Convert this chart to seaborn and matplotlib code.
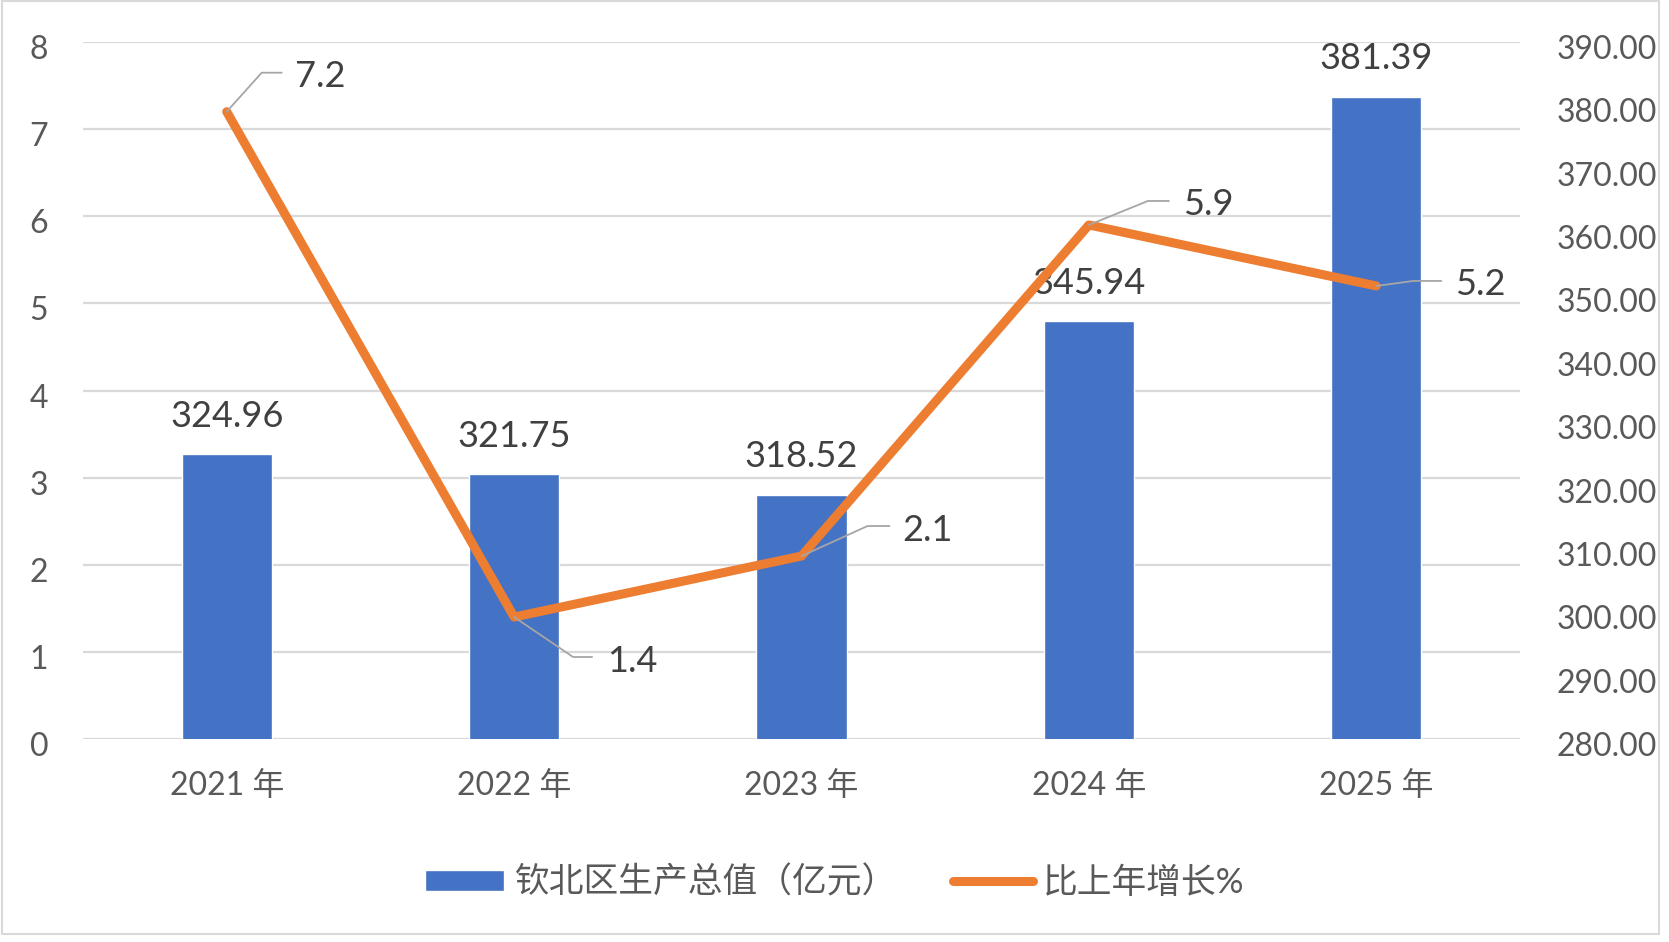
import numpy as np
import pandas as pd
import matplotlib.pyplot as plt
import matplotlib.transforms as mtransforms
from matplotlib.patches import Patch, Rectangle
from matplotlib.lines import Line2D
import seaborn as sns

# données
years = ['2021 年', '2022 年', '2023 年', '2024 年', '2025 年']
gdp = [324.96, 321.75, 318.52, 345.94, 381.39]
growth = [7.2, 1.4, 2.1, 5.9, 5.2]
left_ticks = [0, 1, 2, 3, 4, 5, 6, 7, 8]
right_ticks = [280, 290, 300, 310, 320, 330, 340, 350, 360, 370, 380, 390]
legend_labels = ['钦北区生产总值（亿元）', '比上年增长%']

BLUE = '#4472C4'
ORANGE = '#ED7D31'
GRID = '#D9D9D9'
TICK = '#595959'
LABEL = '#404040'

sns.set_style('white')
plt.rcParams['font.family'] = ['Lato', 'Noto Sans CJK SC']

df = pd.DataFrame({'year': years, 'gdp': gdp, 'growth': growth})

W, H = 1669, 942
fig = plt.figure(figsize=(W / 100, H / 100), dpi=100)
ax = fig.add_axes([83 / W, 1 - 739 / H, (1520 - 83) / W, (739 - 42) / H])

# barres sur l'axe de droite (280-390)
sns.barplot(data=df, x='year', y='gdp', ax=ax, color=BLUE, saturation=1, width=0.314)
ax.set_ylim(280, 390)
ax.set_yticks(right_ticks, [f'{t:.2f}' for t in right_ticks])

# courbe sur l'axe de gauche (0-8)
ax2 = ax.twinx()
sns.lineplot(x=df.index, y=df['growth'], ax=ax2, color=ORANGE, lw=6.5,
             solid_joinstyle='round', solid_capstyle='round', sort=False)
ax2.set_ylim(0, 8)
ax2.set_yticks(left_ticks, [str(t) for t in left_ticks])

# twinx remet les graduations à gauche : on inverse ensuite
ax.yaxis.tick_right()
ax2.yaxis.tick_left()

ax.set_xlim(-0.5, 4.5)
ax.set_xticks(range(len(years)), years)

for a in (ax, ax2):
    a.set_xlabel('')
    a.set_ylabel('')
    for s in a.spines.values():
        s.set_visible(False)

ax.tick_params(axis='x', length=0, labelsize=23, labelcolor=TICK, pad=23)
ax.tick_params(axis='y', length=0, labelsize=23, labelcolor=TICK, pad=26)
ax2.tick_params(axis='y', length=0, labelsize=23, labelcolor=TICK, pad=25)

# les libellés Excel sont un peu plus bas que les lignes
shift = mtransforms.ScaledTranslation(0, -5 / 100, fig.dpi_scale_trans)
for lab in ax.get_yticklabels() + ax2.get_yticklabels():
    lab.set_transform(lab.get_transform() + shift)

# quadrillage de l'axe gauche, dessiné sous les barres
grid_tr = mtransforms.blended_transform_factory(ax.transAxes, ax2.transData)
for t in left_ticks:
    ax.plot([0, 1], [t, t], transform=grid_tr, color=GRID, lw=1.6, zorder=0.5)

# étiquettes des barres
for i, v in enumerate(gdp):
    ax.annotate(f'{v:.2f}', xy=(i, v), xytext=(0, 38), textcoords='offset pixels',
                ha='center', va='center', fontsize=26, color=LABEL)

# étiquettes de la courbe avec lignes de rappel (coude, fin, texte en pixels)
leaders = [((35, 39), (55, 39), (68, 35)),
           ((59, -40), (78, -40), (93, -44)),
           ((66, 30), (88, 30), (101, 26)),
           ((59, 24), (80, 24), (94, 20)),
           ((37, 5), (65, 5), (79, 1))]
for i, (v, (c, e, t)) in enumerate(zip(growth, leaders)):
    px, py = ax2.transData.transform((i, v))
    pts = np.array([[px, py], [px + c[0], py + c[1]], [px + e[0], py + e[1]]])
    d = ax2.transData.inverted().transform(pts)
    ax2.plot(d[:, 0], d[:, 1], color='#A6A6A6', lw=1.3, zorder=4)
    ax2.annotate(f'{v}', xy=(i, v), xytext=t, textcoords='offset pixels',
                 ha='left', va='center', fontsize=26, color=LABEL)

handles = [Patch(facecolor=BLUE),
           Line2D([], [], color=ORANGE, lw=6.5, solid_capstyle='round')]
fig.legend(handles, legend_labels, loc='center', bbox_to_anchor=(0.5, 1 - 882 / H),
           ncol=2, frameon=False, fontsize=25, labelcolor=TICK,
           handlelength=2.3, handleheight=0.57, handletextpad=0.3, columnspacing=1.6)

fig.add_artist(Rectangle((2 / W, 1 - 934 / H), (1659 - 2) / W, (934 - 1) / H,
                         transform=fig.transFigure, fill=False, edgecolor=GRID, lw=1.5))

fig.savefig('out.png', dpi=100)
